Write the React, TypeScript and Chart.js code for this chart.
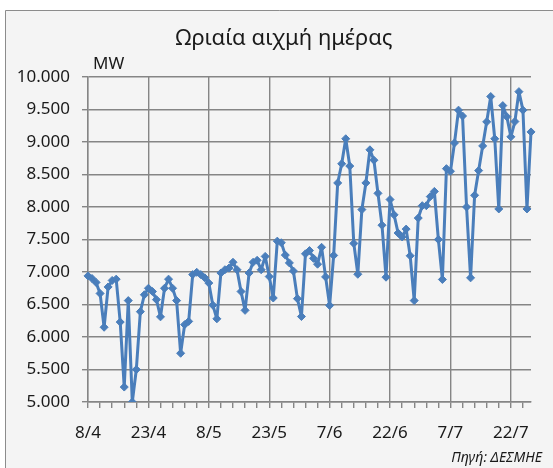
import React, { useEffect, useRef } from "react";
import { Chart, registerables } from "chart.js";

Chart.register(...registerables);

// Daily peak hourly load (MW), one value per day starting 8/4
const START_DAY = 8;
const START_MONTH = 4;
const PEAK_MW = [
  6940, 6900, 6840, 6670, 6150, 6770, 6870, 6890, 6230, 5230,
  6560, 5000, 5500, 6390, 6650, 6750, 6700, 6575, 6310, 6750,
  6890, 6750, 6560, 5750, 6190, 6240, 6960, 6995, 6960, 6910,
  6830, 6490, 6280, 6985, 7035, 7060, 7150, 7035, 6700, 6410,
  6985, 7150, 7180, 7035, 7240, 6930, 6600, 7475, 7450, 7260,
  7140, 7015, 6590, 6315, 7280, 7330, 7210, 7120, 7380, 6925,
  6485, 7255, 8370, 8665, 9050, 8630, 7440, 6965, 7960, 8370,
  8880, 8720, 8210, 7720, 6920, 8115, 7880, 7600, 7540, 7660,
  7250, 6560, 7830, 8020, 8020, 8160, 8240, 7500, 6885, 8590,
  8550, 8985, 9490, 9400, 8000, 6910, 8180, 8560, 8940, 9310,
  9700, 9050, 7970, 9560, 9390, 9080, 9315, 9775, 9490, 7970,
  9155,
];
const TICK_LABELS = ["8/4", "23/4", "8/5", "23/5", "7/6", "22/6", "7/7", "22/7"];
const TITLE = "Ωριαία αιχμή ημέρας";
const UNIT = "MW";
const SOURCE = "Πηγή: ΔΕΣΜΗΕ";

const MONTH_DAYS = [0, 31, 28, 31, 30, 31, 30, 31, 31, 30, 31, 30, 31];
function buildDates(n: number): string[] {
  const out: string[] = [];
  let d = START_DAY;
  let m = START_MONTH;
  for (let i = 0; i < n; i++) {
    out.push(`${d}/${m}`);
    d++;
    if (d > MONTH_DAYS[m]) {
      d = 1;
      m++;
    }
  }
  return out;
}
const DATES = buildDates(PEAK_MW.length);

const FONT = "'Noto Sans', 'DejaVu Sans', sans-serif";
const GRID = "#858585";
const LINE = "#4a7ebb";
const TEXT = "#1a1a1a";

function fmt(v: number): string {
  return String(Math.round(v)).replace(/\B(?=(\d{3})+(?!\d))/g, ".");
}

const decor = {
  id: "decor",
  beforeDraw(chart: any) {
    const ctx = chart.ctx;
    ctx.save();
    ctx.fillStyle = "#ffffff";
    ctx.fillRect(0, 0, chart.width, chart.height);
    ctx.fillStyle = "#f4f4f4";
    ctx.fillRect(5, 10, chart.width, chart.height);
    ctx.strokeStyle = "#8c8c8c";
    ctx.lineWidth = 1;
    ctx.beginPath();
    ctx.moveTo(5.5, chart.height);
    ctx.lineTo(5.5, 10.5);
    ctx.lineTo(chart.width, 10.5);
    ctx.stroke();
    ctx.restore();
  },
  afterDraw(chart: any) {
    const ctx = chart.ctx;
    ctx.save();
    ctx.fillStyle = TEXT;
    ctx.textBaseline = "middle";
    ctx.textAlign = "center";
    ctx.font = `22px ${FONT}`;
    ctx.fillText(TITLE, 284, 39);
    ctx.textAlign = "left";
    ctx.font = `17px ${FONT}`;
    ctx.fillText(UNIT, 93, 64);
    ctx.textAlign = "right";
    ctx.font = `italic 14px ${FONT}`;
    ctx.fillText(SOURCE, 542, 458);
    ctx.restore();
  },
};

export default function App() {
  const ref = useRef<HTMLCanvasElement | null>(null);
  useEffect(() => {
    if (!ref.current) return;
    const chart = new Chart(ref.current, {
      type: "line",
      data: {
        labels: DATES,
        datasets: [
          {
            data: PEAK_MW,
            borderColor: LINE,
            backgroundColor: LINE,
            borderWidth: 3,
            borderJoinStyle: "round",
            borderCapStyle: "round",
            pointStyle: "rectRot",
            pointRadius: 4,
            pointBorderWidth: 1,
            pointBackgroundColor: LINE,
            pointBorderColor: LINE,
            tension: 0,
          },
        ],
      },
      options: {
        responsive: false,
        animation: false,
        layout: { padding: { left: 0, right: 22, top: 77, bottom: 26 } },
        plugins: {
          legend: { display: false },
          tooltip: { enabled: false },
        },
        scales: {
          x: {
            type: "category",
            offset: false,
            grid: {
              color: (c: any) => (c.index % 15 === 0 ? GRID : "rgba(0,0,0,0)"),
              tickColor: (c: any) => (c.index % 3 === 0 ? GRID : "rgba(0,0,0,0)"),
              lineWidth: 1.4,
              tickLength: 6,
              drawTicks: true,
            },
            border: { display: true, color: GRID, width: 1.4 },
            ticks: {
              autoSkip: false,
              maxRotation: 0,
              minRotation: 0,
              padding: 15,
              color: TEXT,
              font: { family: FONT, size: 17 },
              callback: (_v: any, i: number) => (i % 15 === 0 ? TICK_LABELS[i / 15] : ""),
            },
            afterFit: (s: any) => {
              s.height = 40;
            },
          },
          y: {
            min: 5000,
            max: 10000,
            grid: { color: GRID, lineWidth: 1.4, tickLength: 6, drawTicks: true },
            border: { display: true, color: GRID, width: 1.4 },
            ticks: {
              stepSize: 500,
              padding: 12,
              color: TEXT,
              font: { family: FONT, size: 17 },
              callback: (v: any) => fmt(Number(v)),
            },
            afterFit: (s: any) => {
              s.width = 88;
            },
          },
        },
      },
      plugins: [decor],
    });
    return () => chart.destroy();
  }, []);
  return (
    <div style={{ position: "fixed", left: 0, top: 0, width: 553, height: 468 }}>
      <canvas ref={ref} width={553} height={468} style={{ display: "block" }} />
    </div>
  );
}
